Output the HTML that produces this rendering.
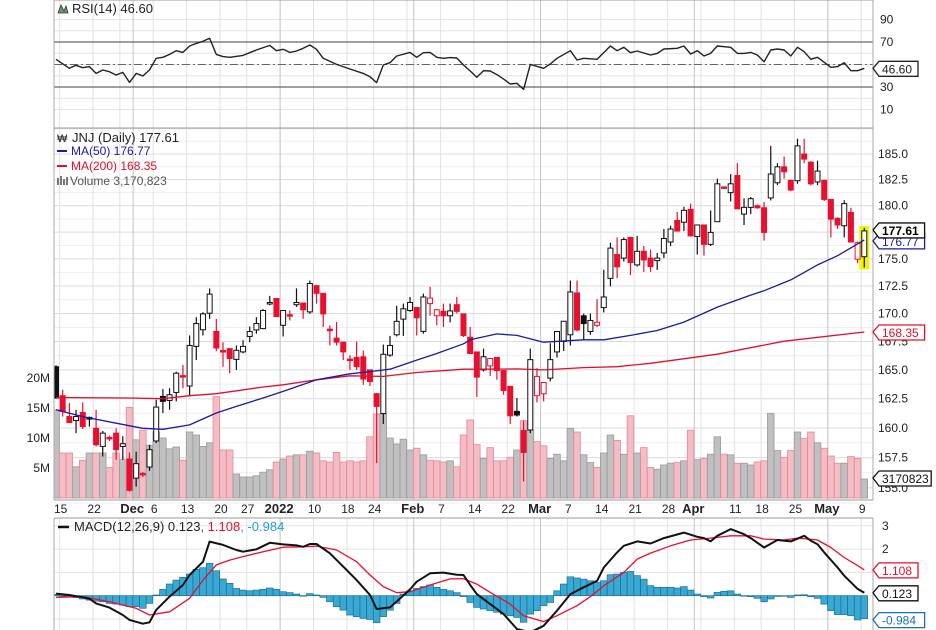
<!DOCTYPE html>
<html><head><meta charset="utf-8"><style>
html,body{margin:0;padding:0;background:#fff;}
svg{display:block;font-family:"Liberation Sans",sans-serif;}
</style></head><body>
<svg id="chart" width="936" height="630" viewBox="0 0 936 630" xmlns="http://www.w3.org/2000/svg">
<defs>
<clipPath id="cRsi"><rect x="54" y="0" width="819" height="128"/></clipPath>
<clipPath id="cPrice"><rect x="54" y="128" width="819" height="372"/></clipPath>
<clipPath id="cMacd"><rect x="54" y="518" width="819" height="112"/></clipPath>
</defs>
<g id="grid"></g>
<g id="vol" clip-path="url(#cPrice)"></g>
<g id="candles" clip-path="url(#cPrice)"></g>
<g id="ma" clip-path="url(#cPrice)"></g>
<g id="rsi" clip-path="url(#cRsi)"></g>
<g id="macd" clip-path="url(#cMacd)"></g>
<g id="axes"></g>
<g id="headers">
<text x="72" y="13" font-size="13" fill="#222">RSI(14) 46.60</text>
<path d="M58 13 L61 5 L64 11 L66 6 L68 13 Z" fill="#6a9a6a" stroke="#333" stroke-width="0.8"/>
<text x="72" y="142" font-size="13" fill="#222">JNJ (Daily) 177.61</text>
<text x="57" y="142" font-size="11" fill="#222">₩</text>
<line x1="57" y1="151" x2="67" y2="151" stroke="#1c1c9c" stroke-width="2"/>
<text x="71" y="155" font-size="12" fill="#1c1c9c">MA(50) 176.77</text>
<line x1="57" y1="166" x2="67" y2="166" stroke="#e0102c" stroke-width="2"/>
<text x="71" y="170" font-size="12" fill="#e0102c">MA(200) 168.35</text>
<g fill="#777"><rect x="57" y="178" width="2" height="7"/><rect x="60" y="176" width="2" height="9"/><rect x="63" y="179" width="2" height="6"/><rect x="66" y="177" width="2" height="8"/></g>
<text x="70" y="185" font-size="12" fill="#555">Volume 3,170,823</text>
<line x1="58" y1="527" x2="69" y2="527" stroke="#111" stroke-width="2.5"/>
<text x="74" y="531" font-size="13" fill="#222">MACD(12,26,9) 0.123<tspan fill="#e0102c">, 1.108</tspan><tspan fill="#1ca0d0">, -0.984</tspan></text>
</g>
</svg>
<script>
const opens=[165.28,162.76,160.97,160.63,161.32,160.9,159.97,158.44,159.2,159.56,158.44,157.39,155.8,156.2,156.72,158.9,162.7,162.35,163.04,164.5,163.6,167.07,168.55,170.03,168.4,166.7,166.87,165.92,166.58,167.95,168.53,168.65,170.9,171.36,168.95,169.9,170.8,170.95,170.15,172.53,171.83,168.6,167.8,167.44,165.95,166.09,166.15,165.0,162.93,161.23,166.3,168.1,169.5,170.28,170.54,168.4,170.9,169.8,170.2,169.8,170.8,169.97,167.88,166.58,165.0,165.35,166.09,164.94,163.56,161.41,159.78,159.83,162.76,162.93,164.28,166.58,167.5,168.1,171.87,169.8,168.39,168.95,170.54,173.2,175.4,175.07,177.0,174.44,175.7,175.07,174.84,175.55,176.57,178.6,178.43,179.65,177.09,178.17,176.35,178.48,181.8,181.25,182.9,179.2,179.84,180.0,179.8,180.74,182.2,183.75,182.43,182.4,185.0,184.2,182.28,182.43,180.6,178.8,178.1,179.35,174.97,175.2];
const highs=[165.4,163.28,162.13,161.55,162.18,160.97,161.55,159.75,159.35,159.97,159.3,157.94,158.0,156.3,158.58,162.41,163.33,163.4,164.85,165.43,168.04,169.67,170.12,172.28,169.53,167.44,166.9,167.15,167.6,168.84,169.67,170.4,171.6,171.4,170.3,170.28,172.28,171.0,173.0,172.6,171.85,168.95,169.25,167.5,166.3,167.5,166.7,165.0,163.0,167.23,168.0,170.7,170.9,171.5,170.6,171.8,172.43,170.4,170.9,170.9,171.5,170.0,168.8,166.6,166.87,166.0,166.1,164.96,163.6,162.56,160.63,166.87,165.15,163.93,167.35,168.39,169.31,173.0,173.0,170.0,170.0,171.3,174.0,176.5,177.0,177.0,177.0,177.14,176.2,175.86,175.55,177.79,178.1,179.4,179.9,180.2,178.2,178.2,179.55,182.6,181.8,183.05,184.1,180.7,180.83,180.1,180.35,185.8,184.1,184.75,182.5,186.5,186.5,184.3,184.35,182.5,180.65,178.9,180.52,179.8,176.6,177.9];
const lows=[162.5,160.97,160.43,159.56,159.9,160.12,158.44,157.6,158.9,157.33,157.33,154.7,155.1,155.9,156.4,158.72,161.27,161.55,162.27,163.4,162.7,165.86,168.04,169.53,166.64,165.28,164.71,165.0,166.45,167.44,168.2,168.6,170.75,169.7,167.95,169.38,170.6,169.53,169.97,170.9,168.8,167.15,167.15,165.86,165.0,165.0,163.7,163.6,157.05,160.34,166.15,167.95,168.0,170.15,168.04,168.2,169.8,168.95,168.8,169.2,170.0,167.9,166.4,162.65,164.86,164.48,164.14,162.84,160.34,160.97,155.53,159.56,162.18,162.27,164.0,166.09,166.66,167.15,168.39,167.6,168.1,168.8,170.1,172.47,173.22,174.75,173.5,174.29,173.8,173.8,173.98,175.07,176.2,177.6,177.6,177.14,175.4,175.3,176.2,178.48,181.67,180.4,179.7,178.17,179.2,179.7,176.7,180.5,181.98,182.6,181.4,182.1,184.1,181.95,181.98,180.45,177.0,177.8,177.0,176.57,174.6,174.2];
const closes=[162.56,161.41,160.46,160.97,160.12,160.75,158.58,159.56,159.1,158.17,158.67,154.8,157.0,156.1,158.17,161.78,162.27,162.84,164.71,164.4,167.15,169.1,169.97,171.76,166.93,166.6,166.0,166.72,167.07,168.39,169.1,170.28,171.0,169.73,170.28,169.8,171.0,170.34,172.73,171.83,169.97,168.5,167.44,166.58,165.86,165.28,164.2,163.99,161.84,166.37,167.15,169.3,170.43,171.0,169.62,171.5,171.4,170.34,169.8,170.24,170.2,168.04,166.44,164.37,166.15,166.0,164.94,163.21,161.03,161.1,157.94,165.9,164.43,163.9,165.9,168.39,169.31,171.96,168.53,169.1,169.38,169.22,171.5,176.0,174.26,176.8,174.66,175.7,174.9,174.29,175.07,176.9,177.79,177.6,179.56,177.14,178.17,176.35,177.47,182.1,181.67,182.1,179.7,179.84,180.67,179.8,177.47,183.05,183.75,183.27,181.5,185.8,184.5,182.1,183.33,180.6,178.72,178.17,180.2,176.57,176.5,177.61];
const volumesM=[14.7,7.5,7.5,5.2,6.3,7.5,7.5,7.5,5.1,7.5,6.4,15.1,9.7,11.3,8.8,11,10,8.2,8.5,6.3,11,10.5,8.6,9.2,16.9,8,8,4,3.5,3.5,3.7,4.3,4.7,6,6.5,7,7.2,7.2,7.8,7.5,6.2,6,7.6,6,6.2,6,6.2,10.2,14,14,10,9,9.8,8,8.3,7.2,6.3,6.2,6,6.2,5.2,10.5,13,8.9,6.6,8.4,6.2,6.2,6.8,8,12.9,11.3,9.4,8.7,6.6,7.3,6.2,11.6,11,7.2,5.9,5.1,7.5,10.5,9.6,7.3,13.7,7.5,8.4,5.1,4.8,5.5,5.8,5.9,6.2,11.3,6.4,6.6,7.3,10.2,7.3,7.2,5.8,5.8,5.5,6.0,6.2,14.1,7.9,6.8,7.9,11,9.9,11,9.2,8.3,7,5.8,5.8,6.9,6.6,3.17];
const ma50Days=[0,4,9,13,16,20,24,27,31,34,39,44,47,50,54,57,61,62,66,69,73,79,82,86,90,94,99,104,106,110,114,117,121];
const ma50Vals=[161.55,160.97,160.4,159.97,159.89,160.26,161.27,161.84,162.56,163.13,164.14,164.66,164.85,165.06,165.86,166.44,167.3,167.65,168.18,168.04,167.44,167.65,167.65,168.04,168.48,169.23,170.58,171.67,172.07,173.06,174.44,175.29,176.77];
const ma200Days=[0,11,16,20,24,31,34,39,44,49,54,61,64,69,73,79,84,89,99,109,121];
const ma200Vals=[162.6,162.56,162.5,162.76,162.93,163.51,163.7,164.14,164.48,164.43,164.77,165.06,165.06,165.09,165.0,165.2,165.28,165.58,166.38,167.53,168.35];
const rsiDays=[0,2,3,4,5,6,7,8,9,10,11,12,13,14,15,16,17,18,19,20,21,22,23,24,25,26,28,30,32,33,34,35,36,37,38,39,40,42,44,46,47,48,49,50,51,53,54,55,56,57,58,59,60,61,62,63,64,65,66,67,68,69,70,71,73,74,75,77,78,79,81,83,84,85,86,87,89,90,91,93,94,95,96,97,98,99,101,102,103,104,105,106,107,108,109,110,111,112,113,114,116,117,118,119,120,121];
const rsiVals=[54.6,46.6,49.3,47.2,48.1,42.1,45.1,43.6,40.7,43,34.1,42.1,39.8,45.1,55.5,56.4,59,62.3,60.8,66.4,68.8,70.6,73.3,59,57,56.4,58.1,62.9,67,62.3,63.5,60.8,62,64.4,67.3,63.5,55.5,50.1,46,42.1,39.2,33.9,49.6,51.6,57.6,60.8,56.4,60.5,60.8,56.4,55.5,56.1,55.8,49.6,44.2,38.6,44.5,44.2,41,37,32.7,33.3,27.9,50.1,46.6,50.4,55.5,62.3,54,55.5,54.6,66.4,62.3,65.3,60.5,62,58.4,59.9,63.8,64.4,66.4,59.3,62.3,57.6,59.9,66.4,65.3,59.9,59.9,60.8,58.4,52.5,62.9,63.8,62.9,57.6,65.3,61.4,54.6,56.4,47.5,48.1,51.6,44.5,44.5,46.6];
const macdDays=[0,2,4,5,6,8,10,11,13,14,15,17,19,20,22,23,25,27,28,30,32,34,36,37,38,39,41,43,45,47,48,50,51,53,54,56,58,60,61,62,63,65,67,69,71,73,75,77,79,81,82,84,85,87,89,91,94,96,97,98,99,101,103,104,106,108,110,112,113,114,115,117,118,120,121];
const macdVals=[.09,.03,-.07,-.13,-.33,-.51,-.83,-1.04,-1.2,-1.14,-.61,-.04,.46,.89,1.46,2.32,2.18,1.96,1.89,1.99,2.27,2.2,2.16,2.1,2.22,2.22,1.82,1.25,.67,.03,-.57,-.5,-.25,.27,.6,.96,.99,.9,.89,.46,.07,-.36,-.79,-1.43,-1.57,-1.29,-.64,.07,.36,.64,1.21,1.86,2.14,2.33,2.24,2.47,2.71,2.53,2.47,2.33,2.57,2.86,2.64,2.47,2.07,2.39,2.33,2.57,2.36,2.21,1.86,1.21,.86,.29,.123];
const signalDays=[0,4,8,12,14,17,20,22,24,26,28,31,34,37,39,42,45,47,49,51,53,56,59,61,63,65,68,70,73,75,78,80,82,85,87,89,92,95,98,101,104,106,109,111,114,116,118,120,121];
const signalVals=[-.07,-.04,-.26,-.54,-.83,-.69,-.11,.67,1.32,1.53,1.68,1.89,2.08,2.1,2.13,1.96,1.46,.89,.39,.13,.17,.46,.72,.73,.5,.14,-.36,-.86,-1.11,-.86,-.43,-.04,.43,1.0,1.57,1.83,2.14,2.39,2.47,2.57,2.57,2.43,2.39,2.47,2.39,2.07,1.64,1.29,1.108];
const histVals=[.06,-.01,-.04,-.08,-.14,-.19,-.23,-.26,-.33,-.36,-.4,-.47,-.47,-.54,-.33,.03,.27,.5,.67,.79,.93,1.13,1.2,1.39,1.07,.72,.53,.31,.24,.21,.24,.27,.33,.27,.17,.13,.07,-.01,.09,.03,-.07,-.26,-.47,-.62,-.83,-.9,-.97,-1.02,-1.16,-.9,-.62,-.33,.07,.21,.31,.39,.46,.36,.27,.21,.13,-.04,-.29,-.5,-.57,-.64,-.71,-.79,-.86,-.93,-1.14,-.79,-.64,-.43,-.29,.21,.5,.81,.76,.71,.64,.57,.64,.9,.93,1.0,1.04,.86,.71,.43,.36,.36,.36,.33,.39,.24,.07,-.04,-.1,.14,.19,.21,.07,0,-.04,-.11,-.26,-.14,-.03,0,-.07,.03,.04,-.04,-.11,-.36,-.64,-.81,-.81,-.86,-1.04,-.984];
const dateLabelDays=[1,6,12,15,20,25,29,34,39,44,48,54,58,63,68,73,77,82,87,92,96,102,106,111,116,121];
const dateLabels=["15","22","Dec","6","13","20","27","2022","10","18","24","Feb","7","14","22","Mar","7","14","21","28","Apr","11","18","25","May","9"];
const monthDays=[12,34,54,73,96,116];
const weekDays=[1,6,10,15,20,25,29,34,39,44,48,53,58,63,68,72,77,82,87,92,97,102,106,111,116,121];
const priceTicks=[185.0,182.5,180.0,175.0,172.5,170.0,167.5,165.0,162.5,160.0,157.5,155.0];
const volTicks=[20,15,10,5];
const rsiTicks=[90,70,30,10];
const macdTicks=[3,2];

const NS="http://www.w3.org/2000/svg";
function mk(tag,attrs,parent){const e=document.createElementNS(NS,tag);for(const k in attrs)e.setAttribute(k,attrs[k]);parent.appendChild(e);return e;}
const X=k=>56+6.68*k;
const PY=p=>154+(Math.log(185)-Math.log(p))*1887;
const VY=v=>498-6*v;
const RY=r=>42+(70-r)*1.125;
const MY=m=>595.7-m*23.3;
const G=id=>document.getElementById(id);
const grid=G('grid'),axes=G('axes');

// horizontal grids
for(let p=153.75;p<=187.5;p+=1.25){const l=mk('line',{x1:54,x2:873,y1:PY(p),y2:PY(p),stroke:(Math.abs(p/2.5-Math.round(p/2.5))<0.01)?'#dcdcdc':'#efefef','stroke-width':1},grid);

}
for(let r=10;r<=90;r+=10){const l=mk('line',{x1:54,x2:873,y1:RY(r),y2:RY(r),stroke:'#e4e4e4'},grid);

}
for(let m=-1;m<=3;m++){const l=mk('line',{x1:54,x2:873,y1:MY(m),y2:MY(m),stroke:'#e4e4e4'},grid);

}
// vertical grids
weekDays.forEach(k=>{[[0,128],[128,500],[518,630]].forEach(([a,b])=>{const l=mk('line',{x1:X(k)-3,x2:X(k)-3,y1:a,y2:b,stroke:'#e2e2e2'},grid);

});});
monthDays.forEach(k=>{[[0,128],[128,500],[518,630]].forEach(([a,b])=>{const l=mk('line',{x1:X(k)-3,x2:X(k)-3,y1:a,y2:b,stroke:'#c4c4c4'},grid);

});});

// panel frames
[[54,0,873,0],[54,128,873,128],[54,500,873,500],[54,518,873,518]].forEach(s=>{const l=mk('line',{x1:s[0],y1:s[1],x2:s[2],y2:s[3],stroke:'#999'},axes);

});
[[54,0,54,500],[54,518,54,630],[873,0,873,500],[873,518,873,630]].forEach(s=>{const l=mk('line',{x1:s[0],y1:s[1],x2:s[2],y2:s[3],stroke:'#aaa'},axes);

});

// RSI reference lines
[70,30].forEach(r=>{const l=mk('line',{x1:54,x2:873,y1:RY(r),y2:RY(r),stroke:'#666','stroke-width':1.3},grid);

});
const mid=mk('line',{x1:54,x2:873,y1:RY(50),y2:RY(50),stroke:'#666','stroke-dasharray':'8,3,2,3'},grid);



// volume
const vg=G('vol');
volumesM.forEach((v,i)=>{const up=i===0||closes[i]>=closes[i-1];
const r=mk('rect',{x:X(i)-3.3,y:VY(v),width:6.6,height:498-VY(v),fill:up?'#c0c0c0':'#f4bcc4',stroke:up?'#9a9a9a':'#e48898','stroke-width':0.8},vg);

});

// candles
const cg=G('candles');
const last=closes.length-1;
const hl=mk('rect',{x:X(last)-5,y:PY(highs[last])-2,width:10,height:PY(lows[last])-PY(highs[last])+4,fill:'#f4f400'},cg);


closes.forEach((c,i)=>{const o=opens[i];const up=i===0||c>=closes[i-1];const col=up?'#111':'#e8102e';
const g=mk('g',{},cg);


mk('line',{x1:X(i),x2:X(i),y1:PY(highs[i]),y2:PY(lows[i]),stroke:col,'stroke-width':1.2},g);
const top=Math.min(PY(o),PY(c)),h=Math.max(1.5,Math.abs(PY(o)-PY(c)));
mk('rect',{x:X(i)-2.5,y:top,width:5,height:h,fill:c>o?'#fff':col,stroke:col,'stroke-width':1},g);});

// MAs
function poly(days,vals,fy,parent,color,w,name){const pts=days.map((d,i)=>X(d).toFixed(1)+','+fy(vals[i]).toFixed(1)).join(' ');
const p=mk('polyline',{points:pts,fill:'none',stroke:color,'stroke-width':w,'stroke-linejoin':'round'},parent);

return p;}
poly(ma200Days,ma200Vals,PY,G('ma'),'#e0102c',1.3,'ma200-line');
poly(ma50Days,ma50Vals,PY,G('ma'),'#1c1c9c',1.3,'ma50-line');

// RSI
poly(rsiDays,rsiVals,RY,G('rsi'),'#222',1.4,'rsi-line');

// MACD
const mg=G('macd');
histVals.forEach((h,i)=>{const y0=MY(0),y1=MY(h);
const r=mk('rect',{x:X(i)-3.3,y:Math.min(y0,y1),width:6.6,height:Math.max(0.5,Math.abs(y1-y0)),fill:'#39a9d4',stroke:'#1d6f94','stroke-width':0.7},mg);

});
poly(signalDays,signalVals,MY,mg,'#e8102e',1.3,'macd-signal-line');
poly(macdDays,macdVals,MY,mg,'#111',2,'macd-line');

// axis labels
function txt(x,y,s,attrs,name){const t=mk('text',Object.assign({x:x,y:y,'font-size':12,fill:'#222'},attrs||{}),axes);t.textContent=s;

return t;}
priceTicks.forEach(p=>txt(878,PY(p)+4,p.toFixed(1),{},'price-tick-label'));
volTicks.forEach(v=>txt(50,VY(v)+4,v+'M',{'text-anchor':'end'},'volume-tick-label'));
rsiTicks.forEach(r=>txt(880,RY(r)+4,String(r),{},'rsi-tick-label'));
macdTicks.forEach(m=>txt(882,MY(m)+4,String(m),{},'macd-tick-label'));
dateLabels.forEach((s,i)=>{const bold=isNaN(+s)||s==='2022';txt(X(dateLabelDays[i])-(bold?4:2),513,s,{'text-anchor':'middle','font-weight':bold?'bold':'normal','font-size':bold?13:12},'date-label');});

// value tags
function tag(y,s,color,bold,name){const w=s.length*6.6+6;
const p=mk('path',{d:`M873 ${y} L879 ${y-7} L${879+w} ${y-7} L${879+w} ${y+8} L879 ${y+8} Z`,fill:'#fff',stroke:color,'stroke-width':1.3},axes);


txt(882,y+5,s,{fill:bold?'#000':color,'font-weight':bold?'bold':'normal'},name);}
tag(RY(rsiVals[rsiVals.length-1]),'46.60','#222',false,'rsi-value-tag');
tag(PY(ma50Vals[ma50Vals.length-1])+1,'176.77','#1c1c9c',false,'ma50-value-tag');
tag(PY(closes[last])-1,'177.61','#111',true,'close-value-tag');
tag(PY(ma200Vals[ma200Vals.length-1]),'168.35','#e0102c',false,'ma200-value-tag');
tag(VY(volumesM[last])-1,'3170823','#111',false,'volume-value-tag');
tag(MY(signalVals[signalVals.length-1]),'1.108','#e0102c',false,'signal-value-tag');
tag(MY(macdVals[macdVals.length-1]),'0.123','#111',false,'macd-value-tag');
tag(MY(histVals[histVals.length-1])+1,'-0.984','#1c6fae',false,'histogram-value-tag');
</script>
</body></html>
